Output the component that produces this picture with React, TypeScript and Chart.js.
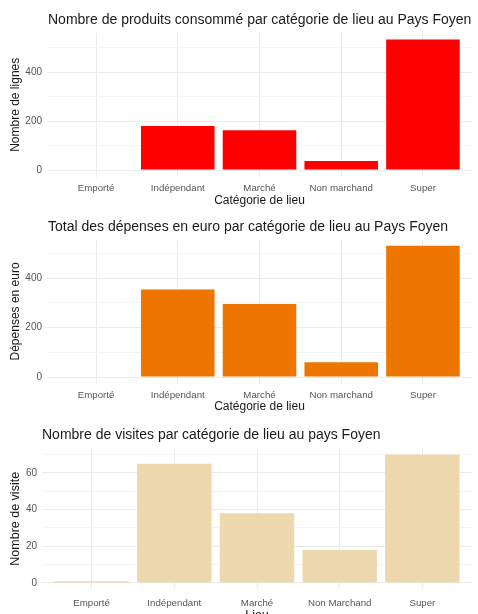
import React, { useEffect, useRef } from "react";
import { Chart, registerables } from "chart.js";

Chart.register(...registerables);

// ---- Data ----
const lieux = ["Emporté", "Indépendant", "Marché", "Non marchand", "Super"];
const lieuxVisites = ["Emporté", "Indépendant", "Marché", "Non Marchand", "Super"];
const produits = [0, 180, 163, 37, 533];
const depenses = [0, 354, 295, 60, 530];
const visites = [1, 65, 38, 18, 70];
const ticksProduits = [0, 200, 400];
const ticksDepenses = [0, 200, 400];
const ticksVisites = [0, 20, 40, 60];

const FONT = "'Liberation Sans', Arial, sans-serif";

const annotPlugin = {
  id: "annot",
  afterDraw(chart: any, _args: any, opts: any) {
    const { ctx, chartArea } = chart;
    ctx.save();
    ctx.fillStyle = "#1a1a1a";
    ctx.textBaseline = "middle";
    ctx.textAlign = "left";
    ctx.font = `${opts.titleSize}px ${FONT}`;
    ctx.fillText(opts.title, chartArea.left + opts.titleDx, opts.titleY);
    ctx.font = `${opts.axisSize}px ${FONT}`;
    ctx.textAlign = "center";
    ctx.fillText(opts.xTitle, (chartArea.left + chartArea.right) / 2, opts.xTitleY);
    ctx.translate(opts.yTitleX, (chartArea.top + chartArea.bottom) / 2);
    ctx.rotate(-Math.PI / 2);
    ctx.fillText(opts.yTitle, 0, 0);
    ctx.restore();
  },
};

type PanelProps = {
  top: number;
  height: number;
  categories: string[];
  values: number[];
  color: string;
  majorTicks: number[];
  title: string;
  xTitle: string;
  yTitle: string;
  left: number;
  rightPad: number;
  topPad: number;
  xAxisH: number;
  tickPad: number;
  titleY: number;
  titleDx: number;
  xTitleY: number;
  yTitleX: number;
  titleSize: number;
  axisSize: number;
};

function Panel(p: PanelProps) {
  const ref = useRef<HTMLCanvasElement | null>(null);
  useEffect(() => {
    if (!ref.current) return;
    const yMax = Math.max(...p.values);
    const step = p.majorTicks[1] - p.majorTicks[0];
    const gridVals: number[] = [];
    for (let v = 0; v <= yMax * 1.05; v += step / 2) gridVals.push(v);
    const chart = new Chart(ref.current, {
      type: "bar",
      data: {
        datasets: [
          {
            data: p.values.map((v, i) => ({ x: i + 1, y: v })),
            backgroundColor: p.color,
            borderWidth: 0,
            barPercentage: 0.9,
            categoryPercentage: 1,
          } as any,
        ],
      },
      options: {
        animation: false,
        responsive: false,
        maintainAspectRatio: false,
        layout: { padding: { top: p.topPad, right: p.rightPad, left: 0, bottom: 0 } },
        plugins: {
          legend: { display: false },
          tooltip: { enabled: false },
          title: { display: false },
          annot: {
            title: p.title,
            xTitle: p.xTitle,
            yTitle: p.yTitle,
            titleY: p.titleY,
            titleDx: p.titleDx,
            xTitleY: p.xTitleY,
            yTitleX: p.yTitleX,
            titleSize: p.titleSize,
            axisSize: p.axisSize,
          },
        } as any,
        scales: {
          x: {
            type: "linear",
            min: 0.4,
            max: p.categories.length + 0.6,
            bounds: "data",
            offset: false,
            afterBuildTicks: (s: any) => {
              s.ticks = p.categories.map((_, i) => ({ value: i + 1 }));
            },
            afterFit: (s: any) => {
              s.height = p.xAxisH;
            },
            ticks: {
              autoSkip: false,
              maxRotation: 0,
              minRotation: 0,
              padding: p.tickPad,
              color: "#555555",
              font: { family: FONT, size: 9.7 },
              callback: (v: any) => p.categories[Math.round(Number(v)) - 1] ?? "",
            },
            grid: { color: "#EBEBEB", drawTicks: false, offset: false, lineWidth: 1 },
            border: { display: false },
          } as any,
          y: {
            type: "linear",
            min: -0.05 * yMax,
            max: 1.05 * yMax,
            bounds: "data",
            afterBuildTicks: (s: any) => {
              s.ticks = gridVals.map((v) => ({ value: v }));
            },
            afterFit: (s: any) => {
              s.width = p.left;
            },
            ticks: {
              autoSkip: false,
              padding: 5,
              color: "#555555",
              font: { family: FONT, size: 10 },
              callback: (v: any) => (p.majorTicks.includes(Number(v)) ? String(v) : ""),
            },
            grid: {
              drawTicks: false,
              lineWidth: 1,
              color: (ctx: any) =>
                ctx.tick && p.majorTicks.includes(ctx.tick.value) ? "#EBEBEB" : "#F4F4F4",
            },
            border: { display: false },
          } as any,
        },
      },
      plugins: [annotPlugin],
    });
    return () => chart.destroy();
  }, []);
  return (
    <canvas
      ref={ref}
      width={478}
      height={p.height}
      style={{ position: "absolute", left: 0, top: p.top, width: 478, height: p.height, display: "block" }}
    />
  );
}

export default function App() {
  return (
    <div style={{ position: "absolute", left: 0, top: 0, width: 478, height: 614, background: "#ffffff", overflow: "hidden" }}>
      <Panel
        top={0}
        height={210}
        categories={lieux}
        values={produits}
        color="#FF0000"
        majorTicks={ticksProduits}
        title="Nombre de produits consommé par catégorie de lieu au Pays Foyen"
        xTitle="Catégorie de lieu"
        yTitle="Nombre de lignes"
        left={47}
        rightPad={6}
        topPad={33}
        xAxisH={33.4}
        tickPad={6}
        titleY={20}
        titleDx={1}
        xTitleY={201}
        yTitleX={16}
        titleSize={14}
        axisSize={12}
      />
      <Panel
        top={210}
        height={205}
        categories={lieux}
        values={depenses}
        color="#EE7600"
        majorTicks={ticksDepenses}
        title="Total des dépenses en euro par catégorie de lieu au Pays Foyen"
        xTitle="Catégorie de lieu"
        yTitle="Dépenses en euro"
        left={47}
        rightPad={6}
        topPad={29.3}
        xAxisH={31.4}
        tickPad={6}
        titleY={17}
        titleDx={1}
        xTitleY={197}
        yTitleX={16}
        titleSize={14}
        axisSize={12}
      />
      <Panel
        top={415}
        height={199}
        categories={lieuxVisites}
        values={visites}
        color="#EED8AE"
        majorTicks={ticksVisites}
        title="Nombre de visites par catégorie de lieu au pays Foyen"
        xTitle="Lieu"
        yTitle="Nombre de visite"
        left={42}
        rightPad={6}
        topPad={33.2}
        xAxisH={24.6}
        tickPad={8}
        titleY={20}
        titleDx={0}
        xTitleY={201}
        yTitleX={16}
        titleSize={14}
        axisSize={12.5}
      />
    </div>
  );
}
